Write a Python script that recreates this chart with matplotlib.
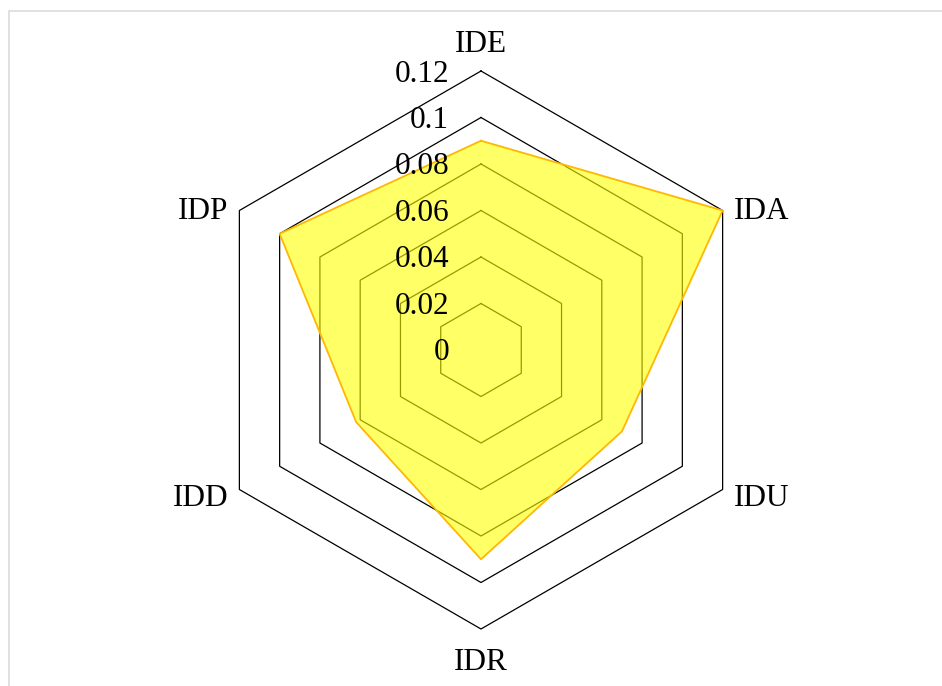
import numpy as np
import matplotlib
matplotlib.use("Agg")
import matplotlib.pyplot as plt
from matplotlib.patches import Rectangle

categories = ["IDE", "IDA", "IDU", "IDR", "IDD", "IDP"]
values = [0.09, 0.12, 0.070, 0.09, 0.062, 0.10]
ring_values = [0.02, 0.04, 0.06, 0.08, 0.10, 0.12]
tick_labels = ["0", "0.02", "0.04", "0.06", "0.08", "0.1", "0.12"]

plt.rcParams['font.family'] = ['Liberation Serif', 'DejaVu Serif']

W, H = 942, 686
fig = plt.figure(figsize=(W / 100, H / 100), dpi=100)
ax = fig.add_axes([0, 0, 1, 1])
ax.set_axis_off()

rmax = 0.12
s = rmax / 279.0  # data units per pixel
cx, cy = 481, 350
ax.set_xlim(-cx * s, (W - cx) * s)
ax.set_ylim(-(H - cy) * s, cy * s)
ax.set_aspect('equal')

n = len(categories)
angles = np.deg2rad(90 - 60 * np.arange(n))
ca = np.append(np.cos(angles), np.cos(angles[0]))
sa = np.append(np.sin(angles), np.sin(angles[0]))

for r in ring_values:
    ax.plot(r * ca, r * sa, color='black', lw=0.9, zorder=1)

v = np.append(values, values[0])
ax.fill(v * ca, v * sa, facecolor='#ffff00', alpha=0.6, edgecolor='none', zorder=2)
ax.plot(v * ca, v * sa, color='#ffb800', lw=1.3, zorder=3)

fs = 22.5
dy = -3
# tick labels along top axis
for i, lab in enumerate(tick_labels):
    r = 0.02 * i
    ax.annotate(lab, xy=(0, r), xytext=(-32, dy), textcoords='offset pixels',
                ha='right', va='center', fontsize=fs, zorder=4)

# category labels
offsets = {
    "IDE": ((0, 30), 'center'),
    "IDA": ((11, 2), 'left'),
    "IDU": ((11, -6), 'left'),
    "IDR": ((0, -31), 'center'),
    "IDD": ((-11, -6), 'right'),
    "IDP": ((-11, 2), 'right'),
}
for i, cat in enumerate(categories):
    off, ha = offsets[cat]
    ax.annotate(cat, xy=(rmax * np.cos(angles[i]), rmax * np.sin(angles[i])),
                xytext=(off[0], off[1] + dy), textcoords='offset pixels',
                ha=ha, va='center', fontsize=fs, zorder=4)

fig.patches.append(Rectangle((8.5 / W, -0.1), 1.2, 1.1 - 10.5 / H,
                             transform=fig.transFigure, fill=False,
                             edgecolor='#dcdcdc', lw=1.2))

fig.savefig("out.png", dpi=100)
